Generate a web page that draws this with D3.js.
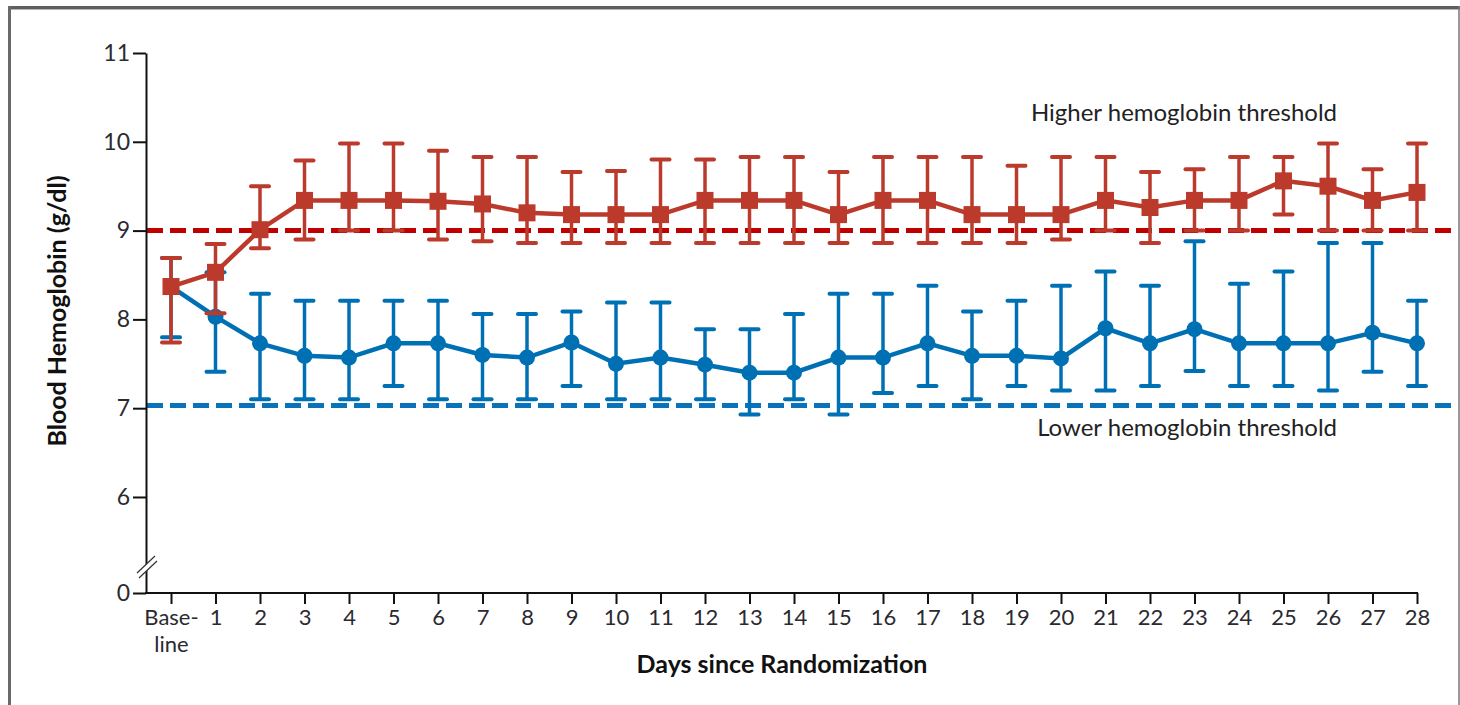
<!DOCTYPE html>
<html>
<head>
<meta charset="utf-8">
<script src="https://cdn.jsdelivr.net/npm/d3@7"></script>
<style>
  body { margin: 0; background: #fff; }
  svg { display: block; }
  text { font-family: Lato, "Open Sans", sans-serif; }
</style>
</head>
<body>
<svg id="chart" width="1460" height="705"></svg>
<script>
// DATA
// x categories (baseline + days 1..28)
var dayLabels = ["Baseline", "1", "2", "3", "4", "5", "6", "7", "8", "9", "10",
  "11", "12", "13", "14", "15", "16", "17", "18", "19", "20",
  "21", "22", "23", "24", "25", "26", "27", "28"];

// higher hemoglobin threshold group (mean and error bar ends, g/dl)
var higherMean = [8.37, 8.53, 9.01, 9.34, 9.34, 9.34, 9.33, 9.30, 9.20, 9.18, 9.18,
  9.18, 9.34, 9.34, 9.34, 9.18, 9.34, 9.34, 9.18, 9.18, 9.18,
  9.34, 9.26, 9.34, 9.34, 9.56, 9.50, 9.34, 9.43];
var higherUpper = [8.69, 8.85, 9.50, 9.79, 9.98, 9.98, 9.90, 9.83, 9.83, 9.66, 9.67,
  9.80, 9.80, 9.83, 9.83, 9.66, 9.83, 9.83, 9.83, 9.73, 9.83,
  9.83, 9.66, 9.69, 9.83, 9.83, 9.98, 9.69, 9.98];
var higherLower = [7.74, 8.07, 8.80, 8.90, 9.00, 9.00, 8.90, 8.88, 8.86, 8.86, 8.86,
  8.86, 8.86, 8.86, 8.86, 8.86, 8.86, 8.86, 8.86, 8.86, 8.90,
  9.00, 8.86, 9.00, 9.00, 9.18, 9.00, 9.00, 9.00];

// lower hemoglobin threshold group
var lowerMean = [8.37, 8.03, 7.73, 7.59, 7.57, 7.73, 7.73, 7.60, 7.57, 7.74, 7.50,
  7.57, 7.49, 7.40, 7.40, 7.57, 7.57, 7.73, 7.59, 7.59, 7.56,
  7.90, 7.73, 7.89, 7.73, 7.73, 7.73, 7.85, 7.73];
var lowerUpper = [8.69, 8.53, 8.29, 8.21, 8.21, 8.21, 8.21, 8.06, 8.06, 8.09, 8.19,
  8.19, 7.89, 7.89, 8.06, 8.29, 8.29, 8.38, 8.09, 8.21, 8.38,
  8.54, 8.38, 8.88, 8.40, 8.54, 8.86, 8.86, 8.21];
var lowerLower = [7.80, 7.41, 7.10, 7.10, 7.10, 7.25, 7.10, 7.10, 7.10, 7.25, 7.10,
  7.10, 7.10, 6.93, 7.10, 6.93, 7.17, 7.25, 7.10, 7.25, 7.20,
  7.20, 7.25, 7.42, 7.25, 7.25, 7.20, 7.41, 7.25];

// transfusion thresholds
var thresholds = [
  { name: "Higher hemoglobin threshold", value: 9.0 },
  { name: "Lower hemoglobin threshold", value: 7.03 }
];

var yTicks = [0, 6, 7, 8, 9, 10, 11];

// COLOURS
var redSeries = "#bb3a2b", redDash = "#c00000";
var blueSeries = "#0070b4", blueDash = "#0a72bb";

var svg = d3.select("#chart");

// frame round the figure
svg.append("line").attr("x1", 8).attr("x2", 1460).attr("y1", 7.5).attr("y2", 7.5)
  .attr("stroke", "#5f5f5f").attr("stroke-width", 3);
svg.append("line").attr("x1", 8).attr("x2", 1460).attr("y1", 9.5).attr("y2", 9.5)
  .attr("stroke", "#b5b5b5").attr("stroke-width", 1);
svg.append("line").attr("x1", 9.5).attr("x2", 9.5).attr("y1", 6).attr("y2", 705)
  .attr("stroke", "#6a6a6a").attr("stroke-width", 3);
svg.append("line").attr("x1", 1459).attr("x2", 1459).attr("y1", 6).attr("y2", 705)
  .attr("stroke", "#777").attr("stroke-width", 1.5);

// SCALES - y axis is broken between 0 and 6
var y = d3.scaleLinear().domain([0, 5.35, 11]).range([593, 554.7, 53]);
var x = d3.scalePoint().domain(dayLabels).range([171, 1417]);

// reference threshold lines
svg.selectAll(".threshold")
  .data(thresholds)
  .enter()
  .append("line")
  .attr("class", "threshold")
  .attr("x1", 147).attr("x2", 1458)
  .attr("y1", function(d) { return y(d.value); })
  .attr("y2", function(d) { return y(d.value); })
  .attr("stroke", function(d, i) { return i === 0 ? redDash : blueDash; })
  .attr("stroke-width", 5)
  .attr("stroke-dasharray", "16,7");

// function drawing one group: error bars, line, markers
var drawSeries = function(mean, upper, lower, colour, shape) {
  var rows = mean.map(function(m, i) {
    return { day: dayLabels[i], m: m, hi: upper[i], lo: lower[i] };
  });
  var g = svg.append("g");

  g.selectAll(".bar").data(rows).enter().append("line")
    .attr("x1", function(d) { return x(d.day); })
    .attr("x2", function(d) { return x(d.day); })
    .attr("y1", function(d) { return y(d.hi); })
    .attr("y2", function(d) { return y(d.lo); })
    .attr("stroke", colour).attr("stroke-width", 3.5);

  ["hi", "lo"].forEach(function(k) {
    g.selectAll(".cap-" + k).data(rows).enter().append("line")
      .attr("x1", function(d) { return x(d.day) - 9; })
      .attr("x2", function(d) { return x(d.day) + 9; })
      .attr("y1", function(d) { return y(d[k]); })
      .attr("y2", function(d) { return y(d[k]); })
      .attr("stroke", colour).attr("stroke-width", 4)
      .attr("stroke-linecap", "round");
  });

  g.append("path").datum(rows)
    .attr("fill", "none").attr("stroke", colour).attr("stroke-width", 4.5)
    .attr("d", d3.line()
      .x(function(d) { return x(d.day); })
      .y(function(d) { return y(d.m); }));

  if (shape === "square") {
    g.selectAll(".mark").data(rows).enter().append("rect")
      .attr("x", function(d) { return x(d.day) - 8.5; })
      .attr("y", function(d) { return y(d.m) - 8.5; })
      .attr("width", 17).attr("height", 17)
      .attr("fill", colour);
  } else {
    g.selectAll(".mark").data(rows).enter().append("circle")
      .attr("cx", function(d) { return x(d.day); })
      .attr("cy", function(d) { return y(d.m); })
      .attr("r", 8)
      .attr("fill", colour);
  }
};

drawSeries(lowerMean, lowerUpper, lowerLower, blueSeries, "circle");
drawSeries(higherMean, higherUpper, higherLower, redSeries, "square");

// AXES
var yAxis = svg.append("g")
  .attr("transform", "translate(146,0)")
  .call(d3.axisLeft(y).tickValues(yTicks).tickSize(13).tickSizeOuter(0).tickPadding(3));
yAxis.select(".domain").attr("stroke", "#111").attr("stroke-width", 2);
yAxis.selectAll(".tick line").attr("stroke", "#111").attr("stroke-width", 2);
yAxis.selectAll(".tick text")
  .style("font-family", "Lato, sans-serif").style("font-size", "23px").attr("fill", "#2a2a30");

var xAxis = svg.append("g")
  .attr("transform", "translate(0,593)")
  .call(d3.axisBottom(x).tickSize(11).tickSizeOuter(0).tickPadding(5));
xAxis.select(".domain").remove();
xAxis.selectAll(".tick line").attr("stroke", "#111").attr("stroke-width", 2);
xAxis.selectAll(".tick text")
  .style("font-family", "Lato, sans-serif").style("font-size", "22px").attr("fill", "#2a2a30")
  .each(function(d) {
    if (d === "Baseline") {
      var t = d3.select(this).text(null);
      t.append("tspan").attr("x", 0).text("Base-");
      t.append("tspan").attr("x", 0).attr("dy", "1.25em").text("line");
    }
  });
svg.append("line").attr("x1", 145).attr("x2", 1418).attr("y1", 593).attr("y2", 593)
  .attr("stroke", "#111").attr("stroke-width", 2);

// axis break marks
svg.append("path")
  .attr("d", "M137,573 L155,556 L157,561 L139,578 Z")
  .attr("fill", "#fff");
svg.append("path")
  .attr("d", "M137,573 L155,556 M139,578 L157,561")
  .attr("stroke", "#333").attr("stroke-width", 1.2).attr("fill", "none");

// axis titles
svg.append("text")
  .attr("x", 782).attr("y", 673)
  .attr("text-anchor", "middle")
  .style("font-size", "25px").style("font-weight", "bold")
  .attr("fill", "#111")
  .text("Days since Randomization");

svg.append("text")
  .attr("transform", "translate(66,311) rotate(-90)")
  .attr("text-anchor", "middle")
  .style("font-size", "25px").style("font-weight", "bold")
  .attr("fill", "#111")
  .text("Blood Hemoglobin (g/dl)");

// threshold labels
svg.selectAll(".thr-label")
  .data(thresholds)
  .enter()
  .append("text")
  .attr("x", 1337)
  .attr("y", function(d, i) { return i === 0 ? 121 : 436; })
  .attr("text-anchor", "end")
  .style("font-size", "24px")
  .attr("fill", "#222")
  .text(function(d) { return d.name; });
</script>
</body>
</html>
